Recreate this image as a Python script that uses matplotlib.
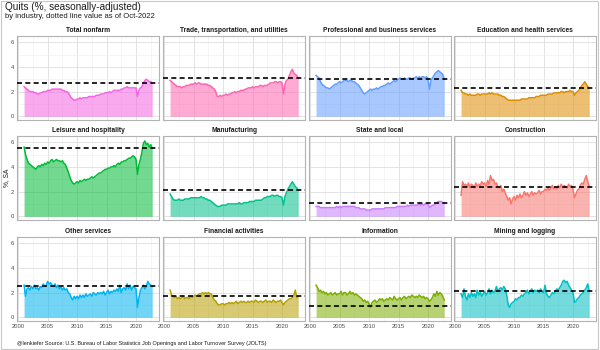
import numpy as np
import matplotlib
matplotlib.use("Agg")
import matplotlib.pyplot as plt
from matplotlib.patches import Rectangle

plt.rcParams['font.family'] = ['Liberation Sans', 'DejaVu Sans']

# quarterly readings, 2001Q1 .. 2022Q4 (last one = Oct-2022)
quarters = np.arange(2001, 2023, 0.25)

total_nonfarm = [2.4, 2.3, 2.2, 2.1, 2.0, 2.0, 2.0, 1.9, 1.9, 1.8, 1.8, 1.9, 1.9, 2.0, 2.0, 2.0,
                 2.1, 2.1, 2.1, 2.2, 2.2, 2.2, 2.2, 2.2, 2.2, 2.2, 2.1, 2.1, 2.0, 2.0, 1.9, 1.7,
                 1.5, 1.4, 1.3, 1.3, 1.4, 1.4, 1.5, 1.4, 1.5, 1.5, 1.5, 1.5, 1.6, 1.6, 1.6, 1.6,
                 1.6, 1.7, 1.7, 1.7, 1.8, 1.8, 1.8, 1.9, 1.9, 1.9, 2.0, 1.9, 2.0, 2.1, 2.1, 2.1,
                 2.1, 2.1, 2.2, 2.2, 2.3, 2.3, 2.4, 2.3, 2.3, 2.3, 2.3, 2.3, 2.3, 1.6, 2.1, 2.3,
                 2.4, 2.7, 2.9, 3.0, 2.9, 2.8, 2.8, 2.7]
trade = [2.9, 2.8, 2.7, 2.6, 2.5, 2.4, 2.4, 2.4, 2.3, 2.4, 2.4, 2.5, 2.5, 2.5, 2.6, 2.6,
         2.6, 2.7, 2.6, 2.7, 2.7, 2.6, 2.6, 2.6, 2.6, 2.6, 2.5, 2.5, 2.4, 2.3, 2.2, 2.0,
         1.6, 1.6, 1.7, 1.6, 1.7, 1.7, 1.8, 1.7, 1.8, 1.8, 1.9, 1.9, 2.0, 1.9, 2.0, 2.0,
         2.1, 2.1, 2.1, 2.2, 2.2, 2.3, 2.3, 2.3, 2.4, 2.3, 2.4, 2.4, 2.4, 2.5, 2.5, 2.4,
         2.5, 2.5, 2.5, 2.6, 2.7, 2.7, 2.7, 2.8, 2.8, 2.7, 2.8, 2.8, 2.7, 1.8, 2.6, 2.9,
         3.0, 3.3, 3.6, 3.8, 3.5, 3.4, 3.3, 3.1]
professional = [3.3, 3.2, 3.1, 2.8, 2.6, 2.5, 2.4, 2.3, 2.3, 2.2, 2.3, 2.4, 2.5, 2.6, 2.6, 2.7,
                2.8, 2.7, 2.8, 2.9, 2.9, 2.9, 2.8, 2.9, 2.9, 2.8, 2.8, 2.7, 2.6, 2.5, 2.3, 2.1,
                1.9, 1.8, 1.9, 2.0, 2.1, 2.2, 2.1, 2.2, 2.2, 2.3, 2.2, 2.3, 2.4, 2.4, 2.5, 2.5,
                2.6, 2.7, 2.6, 2.7, 2.8, 2.9, 2.8, 2.9, 3.0, 3.1, 3.0, 3.0, 3.1, 3.0, 3.0, 3.1,
                3.1, 3.0, 3.1, 3.1, 3.2, 3.1, 3.2, 3.1, 3.2, 3.2, 3.1, 3.2, 3.0, 2.2, 2.9, 3.1,
                3.3, 3.5, 3.6, 3.7, 3.6, 3.5, 3.4, 3.0]
education = [2.1, 1.9, 1.9, 1.8, 1.8, 1.7, 1.8, 1.7, 1.7, 1.7, 1.7, 1.8, 1.8, 1.7, 1.8, 1.8,
             1.8, 1.8, 1.8, 1.9, 1.8, 1.9, 1.8, 1.8, 1.8, 1.8, 1.7, 1.7, 1.6, 1.6, 1.5, 1.4,
             1.3, 1.3, 1.3, 1.3, 1.3, 1.3, 1.3, 1.3, 1.3, 1.4, 1.4, 1.4, 1.4, 1.4, 1.5, 1.5,
             1.5, 1.5, 1.5, 1.6, 1.6, 1.6, 1.7, 1.7, 1.7, 1.7, 1.7, 1.8, 1.8, 1.8, 1.8, 1.9,
             1.9, 1.9, 1.9, 1.9, 2.0, 2.0, 1.9, 2.0, 2.0, 2.0, 2.1, 2.0, 2.0, 1.7, 1.9, 2.0,
             2.1, 2.3, 2.5, 2.6, 2.8, 2.6, 2.4, 2.3]
leisure = [5.6, 5.0, 4.6, 4.3, 4.2, 4.1, 4.0, 3.9, 3.8, 4.0, 4.1, 4.0, 4.2, 4.1, 4.3, 4.2,
           4.4, 4.3, 4.5, 4.6, 4.4, 4.5, 4.6, 4.5, 4.5, 4.4, 4.5, 4.3, 4.2, 3.9, 3.6, 3.2,
           2.9, 2.7, 2.6, 2.7, 2.8, 2.7, 2.9, 2.8, 2.9, 3.0, 2.9, 3.0, 3.0, 3.1, 3.2, 3.1,
           3.2, 3.3, 3.4, 3.5, 3.5, 3.6, 3.7, 3.8, 3.8, 3.9, 3.9, 4.0, 4.0, 4.1, 4.0, 4.2,
           4.3, 4.2, 4.4, 4.4, 4.5, 4.5, 4.6, 4.7, 4.7, 4.8, 4.9, 4.8, 4.6, 3.4, 4.2, 4.6,
           5.2, 5.9, 6.1, 5.8, 5.9, 5.6, 5.8, 5.5]
manufacturing = [1.8, 1.6, 1.4, 1.3, 1.3, 1.3, 1.4, 1.3, 1.3, 1.3, 1.4, 1.4, 1.4, 1.4, 1.5, 1.5,
                 1.5, 1.5, 1.5, 1.5, 1.5, 1.6, 1.5, 1.5, 1.4, 1.4, 1.3, 1.3, 1.2, 1.1, 1.0, 0.9,
                 0.8, 0.8, 0.8, 0.9, 0.9, 0.9, 0.9, 1.0, 1.0, 1.0, 1.0, 1.0, 1.0, 1.0, 1.0, 1.1,
                 1.0, 1.0, 1.1, 1.1, 1.1, 1.1, 1.2, 1.2, 1.2, 1.2, 1.3, 1.3, 1.3, 1.3, 1.3, 1.4,
                 1.5, 1.5, 1.6, 1.6, 1.6, 1.7, 1.7, 1.6, 1.7, 1.7, 1.6, 1.6, 1.5, 0.9, 1.6, 1.9,
                 2.2, 2.4, 2.6, 2.8, 2.6, 2.4, 2.3, 2.1]
state_local = [0.8, 0.8, 0.8, 0.7, 0.7, 0.7, 0.7, 0.7, 0.7, 0.7, 0.7, 0.7, 0.7, 0.7, 0.8, 0.7,
               0.8, 0.7, 0.8, 0.8, 0.8, 0.8, 0.8, 0.8, 0.8, 0.8, 0.8, 0.7, 0.7, 0.7, 0.6, 0.6,
               0.6, 0.6, 0.5, 0.5, 0.5, 0.5, 0.6, 0.6, 0.6, 0.6, 0.6, 0.6, 0.6, 0.6, 0.6, 0.7,
               0.7, 0.7, 0.7, 0.7, 0.7, 0.7, 0.7, 0.8, 0.8, 0.8, 0.8, 0.8, 0.8, 0.8, 0.9, 0.8,
               0.9, 0.9, 0.9, 0.9, 0.9, 0.9, 1.0, 0.9, 1.0, 0.9, 1.0, 1.0, 1.0, 0.7, 0.8, 0.9,
               0.9, 1.0, 1.1, 1.2, 1.2, 1.2, 1.1, 1.1]
construction = [1.7, 2.8, 2.5, 2.6, 2.4, 2.7, 2.3, 2.6, 2.5, 2.3, 2.7, 2.4, 2.6, 2.5, 2.8, 2.6,
                2.7, 2.4, 2.9, 2.6, 3.3, 2.9, 3.0, 2.6, 2.7, 2.4, 2.3, 2.5, 2.0, 2.2, 1.9, 1.6,
                1.3, 1.5, 1.0, 1.4, 1.6, 1.3, 1.7, 1.5, 1.8, 1.5, 1.7, 2.0, 1.7, 1.9, 1.6, 1.8,
                2.0, 1.7, 1.9, 1.8, 1.9, 2.1, 1.8, 2.0, 2.0, 2.2, 2.1, 2.3, 2.1, 2.3, 2.5, 2.2,
                2.4, 2.2, 2.5, 2.3, 2.6, 2.3, 2.5, 2.4, 2.3, 2.6, 2.4, 2.5, 2.2, 1.5, 1.8, 2.1,
                2.2, 2.5, 2.7, 2.6, 3.0, 3.3, 2.8, 2.4]
other_services = [2.6, 1.7, 2.3, 2.4, 2.2, 2.5, 2.3, 2.6, 2.3, 2.4, 2.2, 2.5, 2.4, 2.7, 2.5, 2.6,
                  2.9, 2.7, 2.8, 2.6, 2.5, 2.7, 2.4, 2.6, 2.3, 2.5, 2.2, 2.4, 2.2, 2.3, 2.0, 1.9,
                  1.6, 1.4, 1.7, 1.5, 1.7, 1.5, 1.8, 1.6, 1.8, 1.6, 1.9, 1.7, 1.8, 1.9, 1.7, 2.0,
                  1.9, 1.8, 2.0, 1.9, 2.0, 1.9, 2.1, 1.8, 2.0, 2.2, 1.9, 2.1, 2.0, 2.2, 2.1, 2.3,
                  2.1, 2.6, 2.0, 2.3, 2.4, 2.2, 2.7, 2.3, 2.6, 2.2, 2.5, 2.4, 2.3, 0.8, 1.6, 2.2,
                  2.4, 2.6, 2.3, 2.5, 2.9, 2.7, 2.6, 2.5]
financial = [2.2, 1.8, 1.7, 1.6, 1.7, 1.5, 1.6, 1.5, 1.6, 1.7, 1.5, 1.6, 1.6, 1.5, 1.7, 1.6,
             1.7, 1.8, 1.7, 1.8, 1.9, 1.9, 2.0, 1.9, 2.0, 1.9, 2.0, 1.9, 1.9, 1.6, 1.4, 1.3,
             1.1, 1.0, 1.0, 1.1, 1.1, 1.0, 1.1, 1.1, 1.2, 1.1, 1.2, 1.1, 1.2, 1.3, 1.1, 1.2,
             1.3, 1.2, 1.3, 1.2, 1.2, 1.3, 1.2, 1.3, 1.3, 1.2, 1.4, 1.3, 1.2, 1.3, 1.3, 1.2,
             1.3, 1.4, 1.2, 1.3, 1.3, 1.2, 1.4, 1.3, 1.2, 1.3, 1.3, 1.4, 1.2, 1.0, 1.2, 1.3,
             1.4, 1.5, 1.5, 1.6, 1.8, 2.2, 1.6, 1.7]
information = [2.6, 2.4, 2.1, 2.2, 2.0, 2.1, 1.9, 2.0, 1.8, 1.9, 2.0, 1.8, 1.9, 2.0, 1.8, 1.9,
               1.9, 2.1, 1.8, 2.0, 2.0, 1.8, 1.9, 2.1, 1.9, 2.0, 1.8, 1.9, 1.8, 1.7, 1.6, 1.5,
               1.3, 1.4, 1.2, 1.3, 1.1, 0.8, 1.2, 1.3, 1.4, 1.2, 1.3, 1.5, 1.4, 1.5, 1.3, 1.4,
               1.5, 1.4, 1.6, 1.5, 1.4, 1.7, 1.5, 1.4, 1.5, 1.6, 1.4, 1.6, 1.7, 1.5, 1.6, 1.7,
               1.6, 1.8, 1.7, 1.6, 1.7, 1.6, 1.8, 1.7, 1.6, 1.7, 1.5, 1.6, 1.5, 1.3, 1.4, 1.6,
               1.9, 1.7, 2.1, 1.8, 2.0, 1.9, 1.7, 1.4]
mining = [1.9, 1.6, 2.3, 1.7, 1.4, 1.9, 1.6, 2.0, 1.7, 1.9, 1.6, 2.2, 1.8, 2.0, 1.7, 1.9,
          2.1, 1.8, 2.0, 2.3, 1.9, 2.2, 2.0, 2.1, 2.5, 2.1, 2.3, 2.4, 2.2, 2.5, 2.3, 1.8,
          1.0, 0.8, 1.1, 1.2, 1.3, 1.5, 1.4, 1.6, 1.6, 1.8, 1.7, 1.9, 2.0, 2.2, 1.9, 2.1,
          2.3, 2.0, 2.2, 2.1, 2.2, 2.0, 2.3, 2.1, 2.0, 2.6, 1.9, 1.7, 1.6, 1.8, 2.0, 1.9,
          2.1, 2.3, 2.2, 2.4, 2.6, 2.9, 3.0, 2.8, 2.9, 2.6, 2.4, 2.2, 2.0, 1.2, 1.3, 1.5,
          1.6, 1.8, 1.9, 2.0, 2.2, 2.4, 2.7, 2.1]

# panel order (row by row) and Oct-2022 value for the dashed line
titles = ["Total nonfarm", "Trade, transportation, and utilities",
          "Professional and business services", "Education and health services",
          "Leisure and hospitality", "Manufacturing", "State and local", "Construction",
          "Other services", "Financial activities", "Information", "Mining and logging"]
values = [total_nonfarm, trade, professional, education,
          leisure, manufacturing, state_local, construction,
          other_services, financial, information, mining]
latest = [2.7, 3.1, 3.0, 2.3, 5.5, 2.1, 1.1, 2.4, 2.5, 1.7, 0.9, 2.1]
colors = ["#F564E3", "#FF64B0", "#619CFF", "#DE8C00",
          "#00BA38", "#00C08B", "#C77CFF", "#F8766D",
          "#00B4F0", "#B79F00", "#7CAE00", "#00BFC4"]

fig = plt.figure(figsize=(6, 3.5), dpi=100)
W, H = 600, 350
col_x = [17, 163, 309, 454]
row_top = [36, 136, 237]
pw, ph = 142, 84

for i, (title, vals, last, c) in enumerate(zip(titles, values, latest, colors)):
    r, k = divmod(i, 4)
    ax = fig.add_axes([col_x[k] / W, 1 - (row_top[r] + ph) / H, pw / W, ph / H])
    ax.fill_between(quarters, 0, vals, color=c, alpha=0.55, lw=0, zorder=2)
    ax.plot(quarters, vals, color=c, lw=1.1, zorder=3)
    ax.axhline(last, color="black", lw=1.2, dashes=(3, 2), zorder=4)
    ax.set_xlim(1999.8, 2023.9)
    ax.set_ylim(-0.3, 6.5)
    ax.set_xticks([2000, 2005, 2010, 2015, 2020])
    ax.set_xticks([2002.5, 2007.5, 2012.5, 2017.5, 2022.5], minor=True)
    ax.set_yticks([0, 2, 4, 6])
    ax.set_yticks([1, 3, 5], minor=True)
    ax.grid(which="major", color="#DEDEDE", lw=0.6, zorder=0)
    ax.grid(which="minor", color="#EEEEEE", lw=0.4, zorder=0)
    ax.set_axisbelow(True)
    ax.tick_params(which="both", length=0, labelsize=4.2, labelcolor="#4D4D4D", pad=2)
    if r < 2:
        ax.set_xticklabels([])
    if k > 0:
        ax.set_yticklabels([])
    for s in ax.spines.values():
        s.set_color("#B3B3B3")
        s.set_linewidth(0.8)
    ax.set_title(title, fontsize=4.8, fontweight="bold", color="#1A1A1A", pad=3)

fig.text(5 / W, 1 - 7 / H, "Quits (%, seasonally-adjusted)", fontsize=7.2,
         color="#1A1A1A", va="center", ha="left")
fig.text(5 / W, 1 - 17 / H, "by industry, dotted line value as of Oct-2022", fontsize=5.5,
         color="#1A1A1A", va="center", ha="left")
fig.text(7 / W, 1 - 178 / H, "%, SA", fontsize=4.8, rotation=90, color="#1A1A1A",
         va="center", ha="center")
fig.text(17 / W, 1 - 343 / H,
         "@lenkiefer Source: U.S. Bureau of Labor Statistics Job Openings and Labor Turnover Survey (JOLTS)",
         fontsize=4.0, color="#1A1A1A", va="center", ha="left")

fig.patches.append(Rectangle((0.002, 0.003), 0.995, 0.994, transform=fig.transFigure,
                             fill=False, edgecolor="#C8C8C8", lw=0.8))

fig.savefig("out.png", dpi=100, facecolor="white")
